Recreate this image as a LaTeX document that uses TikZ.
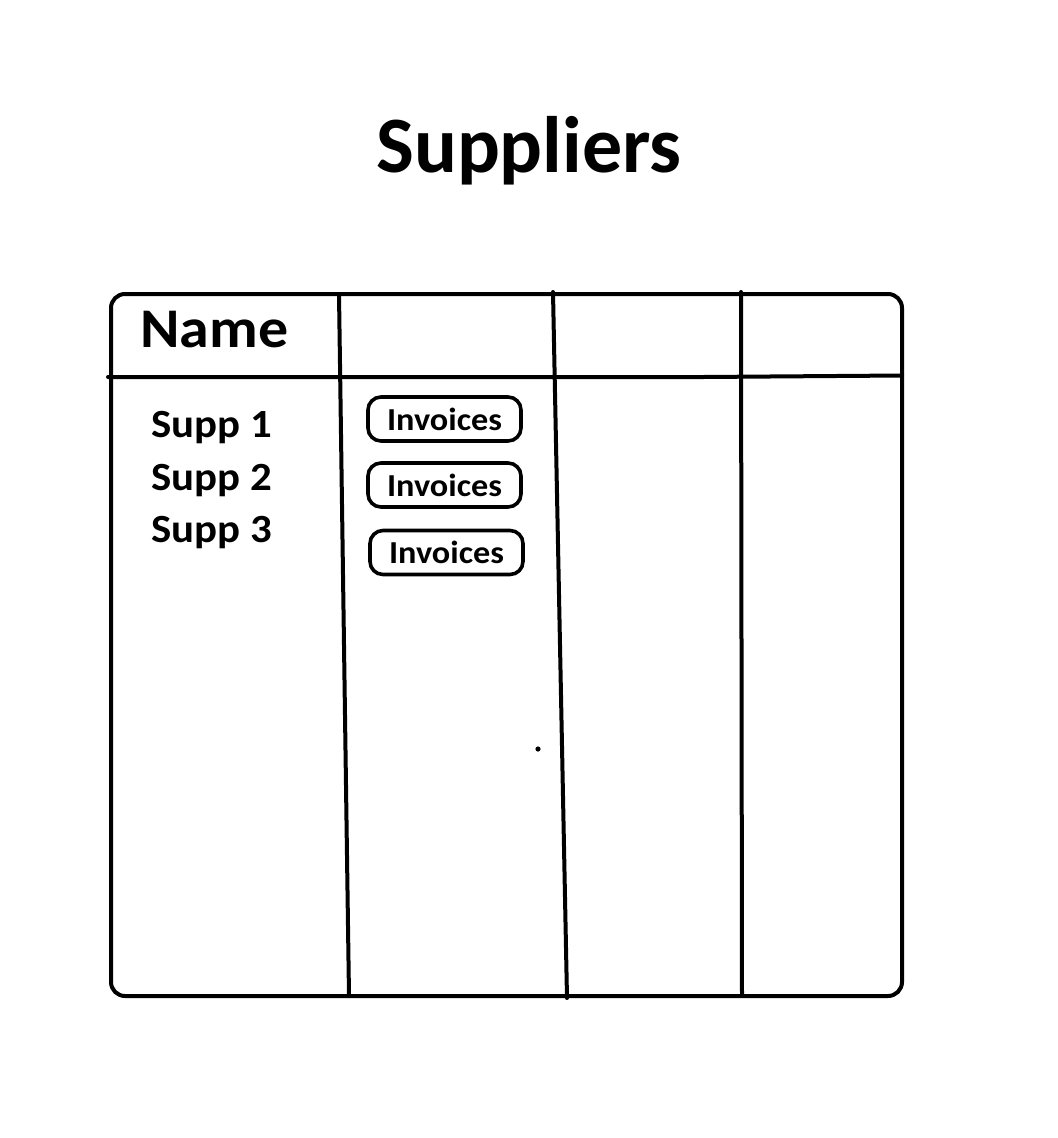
\documentclass[tikz,border=0pt]{standalone}
\usepackage{fontspec}
\setmainfont{Carlito}
\newfontfamily\widefont[FakeStretch=1.07]{Carlito}
\tikzset{
  rule/.style={line width=4bp, line cap=round, line join=round},
  invbox/.style={draw, line width=3.6bp, rounded corners=13bp, minimum width=153bp, minimum height=44bp, inner sep=0pt, font=\widefont\bfseries\fontsize{32bp}{32bp}\selectfont},
  supp/.style={anchor=base west, inner sep=0pt, font=\widefont\bfseries\fontsize{40bp}{40bp}\selectfont}
}
\begin{document}
\begin{tikzpicture}[x=1bp,y=-1bp]
\useasboundingbox (0,0) rectangle (1058,1138);
\node[anchor=base, inner sep=0pt, font=\bfseries\fontsize{80bp}{80bp}\selectfont] (title) at (529,172) {Suppliers};
% outer frame
\draw[rule, rounded corners=14bp] (111,294) rectangle (902,996);
% header line
\draw[rule] (108,377) -- (703,377) -- (902,375.5);
% column lines
\draw[rule] (339,294) -- (349,996);
\draw[rule] (553,292) -- (567,998);
\draw[rule] (741,292) -- (742,996);
% header text
\node[anchor=base west, inner sep=0pt, font=\widefont\bfseries\fontsize{56bp}{56bp}\selectfont] (name) at (140,347) {Name};
% supplier names
\node[supp] (s1) at (151,437) {Supp 1};
\node[supp] (s2) at (151,490) {Supp 2};
\node[supp] (s3) at (151,542) {Supp 3};
% invoice boxes
\node[invbox] (i1) at (444.5,419) {Invoices};
\node[invbox] (i2) at (444.5,485) {Invoices};
\node[invbox] (i3) at (446.5,552.5) {Invoices};
% stray dot
\fill (538,749) circle (2.6bp);
\end{tikzpicture}
\end{document}
